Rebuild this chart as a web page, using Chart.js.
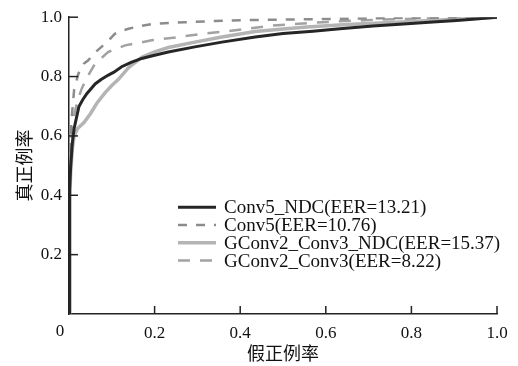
<!DOCTYPE html>
<html>
<head>
<meta charset="utf-8">
<script src="https://cdn.jsdelivr.net/npm/chart.js@4"></script>
<style>
  html, body { margin: 0; padding: 0; background: #fff; }
  #wrap { width: 518px; height: 366px; position: relative; }
</style>
</head>
<body>
<div id="wrap"><canvas id="roc"></canvas></div>
<script>
// ROC curves
const seriesNames = [
    'Conv5_NDC(EER=13.21)',
    'Conv5(EER=10.76)',
    'GConv2_Conv3_NDC(EER=15.37)',
    'GConv2_Conv3(EER=8.22)'
];

const conv5NdcX = [0, 0.001, 0.002, 0.004, 0.008, 0.012, 0.018, 0.023, 0.032, 0.042, 0.052, 0.061, 0.075, 0.092, 0.105, 0.123, 0.145, 0.17, 0.2, 0.232, 0.294, 0.357, 0.435, 0.5, 0.57, 0.633, 0.71, 0.79, 0.85, 0.906, 0.95, 1.0];
const conv5NdcY = [0, 0.3, 0.42, 0.5, 0.58, 0.625, 0.665, 0.698, 0.722, 0.743, 0.76, 0.775, 0.79, 0.805, 0.815, 0.833, 0.848, 0.861, 0.872, 0.883, 0.9, 0.916, 0.933, 0.945, 0.953, 0.961, 0.97, 0.978, 0.984, 0.989, 0.994, 1.0];

const conv5X = [0, 0.001, 0.002, 0.005, 0.012, 0.022, 0.035, 0.045, 0.06, 0.076, 0.09, 0.107, 0.125, 0.139, 0.165, 0.2, 0.27, 0.34, 0.41, 0.5, 0.6, 0.7, 0.8, 0.9, 1.0];
const conv5Y = [0, 0.35, 0.5, 0.64, 0.756, 0.81, 0.844, 0.855, 0.88, 0.9, 0.918, 0.944, 0.955, 0.961, 0.97, 0.978, 0.983, 0.987, 0.99, 0.992, 0.994, 0.996, 0.998, 0.999, 1.0];

const gconvNdcX = [0, 0.001, 0.002, 0.004, 0.008, 0.012, 0.02, 0.035, 0.05, 0.065, 0.084, 0.1, 0.115, 0.139, 0.17, 0.2, 0.232, 0.294, 0.357, 0.435, 0.5, 0.556, 0.65, 0.79, 0.9, 1.0];
const gconvNdcY = [0, 0.25, 0.38, 0.48, 0.56, 0.6, 0.625, 0.645, 0.675, 0.71, 0.745, 0.77, 0.79, 0.83, 0.865, 0.883, 0.898, 0.916, 0.933, 0.952, 0.96, 0.967, 0.975, 0.985, 0.993, 1.0];

const gconvX = [0, 0.001, 0.003, 0.006, 0.012, 0.02, 0.03, 0.041, 0.061, 0.092, 0.131, 0.193, 0.255, 0.31, 0.372, 0.42, 0.477, 0.556, 0.63, 0.71, 0.8, 0.87, 1.0];
const gconvY = [0, 0.35, 0.5, 0.6, 0.67, 0.72, 0.76, 0.794, 0.844, 0.883, 0.905, 0.922, 0.933, 0.944, 0.953, 0.962, 0.972, 0.98, 0.986, 0.991, 0.995, 0.998, 1.0];

const xTicks = [0, 0.2, 0.4, 0.6, 0.8, 1.0];
const yTicks = [0, 0.2, 0.4, 0.6, 0.8, 1.0];

const serif = '"Liberation Serif", "DejaVu Serif", serif';
const cjk = '"Noto Sans CJK SC", sans-serif';

function toPoints(xs, ys) {
    return xs.map((x, i) => ({ x: x, y: ys[i] }));
}

// tick marks point into the plot, and the shared "0" sits below the corner
const axisDecor = {
    id: 'axisDecor',
    afterDraw(chart) {
        const c = chart.ctx;
        const xs = chart.scales.x, ys = chart.scales.y;
        const area = chart.chartArea;
        c.save();
        c.strokeStyle = '#222';
        c.lineWidth = 1.5;
        yTicks.forEach(v => {
            if (v === 0) return;
            const py = ys.getPixelForValue(v);
            c.beginPath();
            c.moveTo(area.left, py);
            c.lineTo(area.left + 9, py);
            c.stroke();
        });
        xTicks.forEach(v => {
            if (v === 0) return;
            const px = xs.getPixelForValue(v);
            c.beginPath();
            c.moveTo(px, area.bottom);
            c.lineTo(px, area.bottom - 8);
            c.stroke();
        });
        c.fillStyle = '#111';
        c.font = '17px ' + serif;
        c.textAlign = 'center';
        c.textBaseline = 'top';
        c.fillText('0', xs.getPixelForValue(0) - 9, area.bottom + 9);
        c.restore();
    }
};

// legend drawn inside the plot like the original
const insideLegend = {
    id: 'insideLegend',
    afterDraw(chart) {
        const c = chart.ctx;
        const area = chart.chartArea;
        const x0 = area.left + 109;
        let y = area.top + 190;
        c.save();
        c.font = '19px ' + serif;
        c.fillStyle = '#111';
        c.textBaseline = 'middle';
        chart.data.datasets.forEach(ds => {
            c.strokeStyle = ds.borderColor;
            c.lineWidth = ds.borderWidth;
            c.setLineDash(ds.borderDash || []);
            c.beginPath();
            c.moveTo(x0, y);
            c.lineTo(x0 + 38, y);
            c.stroke();
            c.setLineDash([]);
            c.fillText(ds.label, x0 + 46, y + 1);
            y += 17.8;
        });
        c.restore();
    }
};

new Chart(document.getElementById('roc'), {
    type: 'line',
    data: {
        datasets: [
            {
                label: seriesNames[0],
                data: toPoints(conv5NdcX, conv5NdcY),
                borderColor: '#262626',
                borderWidth: 3,
                pointRadius: 0,
                tension: 0
            },
            {
                label: seriesNames[1],
                data: toPoints(conv5X, conv5Y),
                borderColor: '#8c8c8c',
                borderWidth: 2.5,
                borderDash: [9, 9],
                pointRadius: 0,
                tension: 0
            },
            {
                label: seriesNames[2],
                data: toPoints(gconvNdcX, gconvNdcY),
                borderColor: '#b4b4b4',
                borderWidth: 3.5,
                pointRadius: 0,
                tension: 0
            },
            {
                label: seriesNames[3],
                data: toPoints(gconvX, gconvY),
                borderColor: '#a2a2a2',
                borderWidth: 2.5,
                borderDash: [12, 10],
                pointRadius: 0,
                tension: 0
            }
        ]
    },
    options: {
        responsive: true,
        maintainAspectRatio: false,
        animation: false,
        layout: { padding: { left: 0, top: 15, right: 21, bottom: 0 } },
        scales: {
            x: {
                type: 'linear',
                min: 0,
                max: 1,
                afterFit: s => { s.height = 52; },
                afterBuildTicks: s => { s.ticks = xTicks.map(v => ({ value: v })); },
                grid: { display: false, drawTicks: false },
                border: { display: true, color: '#222', width: 1.5 },
                ticks: {
                    padding: 9,
                    maxRotation: 0,
                    color: '#111',
                    font: { family: serif, size: 17 },
                    callback: v => v === 0 ? '' : v.toFixed(1)
                },
                title: {
                    display: true,
                    text: '假正例率',
                    color: '#111',
                    font: { family: cjk, size: 18 },
                    padding: { top: 0, bottom: 2 }
                }
            },
            y: {
                min: 0,
                max: 1,
                afterFit: s => { s.width = 69; },
                afterBuildTicks: s => { s.ticks = yTicks.map(v => ({ value: v })); },
                grid: { display: false, drawTicks: false },
                border: { display: true, color: '#222', width: 1.5 },
                ticks: {
                    padding: 7,
                    color: '#111',
                    font: { family: serif, size: 17 },
                    callback: v => v === 0 ? '' : v.toFixed(1)
                },
                title: {
                    display: true,
                    text: '真正例率',
                    color: '#111',
                    font: { family: cjk, size: 18 },
                    padding: { top: 13, bottom: 0 }
                }
            }
        },
        plugins: {
            legend: { display: false },
            tooltip: { enabled: false }
        }
    },
    plugins: [axisDecor, insideLegend]
});
</script>
</body>
</html>
